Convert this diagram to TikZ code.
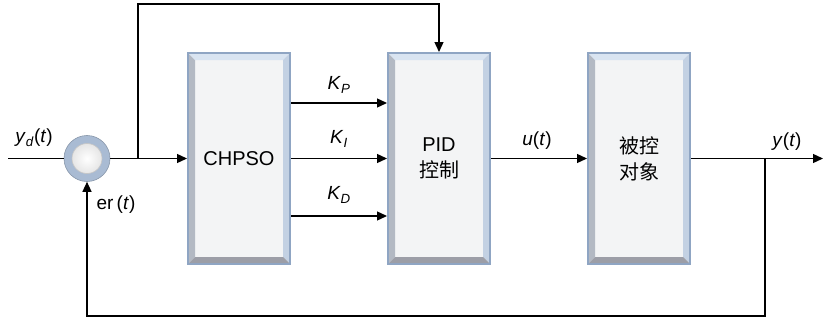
\documentclass[tikz,border=0pt]{standalone}
\usepackage{fontspec}
\setmainfont{Liberation Sans}
\newfontfamily\cjk{Noto Sans CJK SC}
\usetikzlibrary{arrows.meta,calc}
\definecolor{boxedge}{HTML}{8FA5C3}
\definecolor{boxface}{HTML}{F3F4F5}
\definecolor{bvleft}{HTML}{B3B9C3}
\definecolor{bvtop}{HTML}{D9E4F1}
\definecolor{bvright}{HTML}{C3D1E3}
\definecolor{bvbot}{HTML}{9C9EA7}
\definecolor{ringc}{HTML}{A9BBD3}
\tikzset{
  blk/.style={draw=boxedge, line width=2pt, fill=boxface, inner sep=0pt,
    minimum width=102pt, minimum height=211pt, align=center,
    font=\fontsize{20}{26}\selectfont,
    path picture={
      \coordinate (sw) at (path picture bounding box.south west);
      \coordinate (nw) at (path picture bounding box.north west);
      \coordinate (ne) at (path picture bounding box.north east);
      \coordinate (se) at (path picture bounding box.south east);
      \fill[bvleft] (sw) -- (nw) -- ([shift={(7pt,-7pt)}]nw) -- ([shift={(7pt,7pt)}]sw) -- cycle;
      \fill[bvtop] (nw) -- (ne) -- ([shift={(-7pt,-7pt)}]ne) -- ([shift={(7pt,-7pt)}]nw) -- cycle;
      \fill[bvright] (ne) -- (se) -- ([shift={(-7pt,7pt)}]se) -- ([shift={(-7pt,-7pt)}]ne) -- cycle;
      \fill[bvbot] (sw) -- (se) -- ([shift={(-7pt,7pt)}]se) -- ([shift={(7pt,7pt)}]sw) -- cycle;
    }},
  conn/.style={line width=1.3pt, draw=black},
  arr/.style={conn, -{Triangle[length=10pt,width=9pt]}},
  lab/.style={font=\fontsize{19}{22}\selectfont, inner sep=0pt},
}
\begin{document}
\begin{tikzpicture}[x=1pt,y=-1pt]
\useasboundingbox (0,0) rectangle (823,324);
% blocks
\node[blk] (chpso) at (239,158.5) {CHPSO};
\node[blk] (pid) at (439,158.5) {PID\\{\cjk 控制}};
\node[blk] (plant) at (639,158.5) {{\cjk 被控}\\{\cjk 对象}};
% summing junction
\node[circle, minimum size=46pt, inner sep=0pt, fill=ringc,
      draw=ringc!80!black, line width=0.6pt] (sum) at (87,158.5) {};
\shade[inner color=white, outer color=gray!20] (sum.center) circle (15pt);
\draw[gray!45, line width=0.6pt] (sum.center) circle (15pt);
% coordinates
\coordinate (in) at (8,158.5);
\coordinate (b1) at (138,158.5);
\coordinate (topy) at (0,4);
\coordinate (b2) at (765,158.5);
\coordinate (out) at (823,158.5);
\coordinate (boty) at (0,316);
% connectors
\draw[conn] (in) -- (sum.west);
\draw[arr] (sum.east) -- (chpso.west);
\draw[arr] (b1) -- (b1 |- topy) -- (pid.north |- topy) -- (pid.north);
\draw[arr] (chpso.east |- {0,103}) -- (pid.west |- {0,103});
\draw[arr] (chpso.east) -- (pid.west);
\draw[arr] (chpso.east |- {0,216}) -- (pid.west |- {0,216});
\draw[arr] (pid.east) -- (plant.west);
\draw[arr] (plant.east) -- (out);
\draw[arr] (b2) -- (b2 |- boty) -- (sum.south |- boty) -- (sum.south);
% labels
\node[lab] (lyd) at (34,138) {\textit{y}\textsubscript{\textit{d}}(\textit{t})};
\node[lab] (ler) at (116,205) {er\,(\textit{t})};
\node[lab] (lkp) at (339,85) {\textit{K}\textsubscript{\textit{P}}};
\node[lab] (lki) at (339,139) {\textit{K}\textsubscript{\textit{I}}};
\node[lab] (lkd) at (339,195) {\textit{K}\textsubscript{\textit{D}}};
\node[lab] (lu) at (537,141) {\textit{u}(\textit{t})};
\node[lab] (ly) at (787,142) {\textit{y}(\textit{t})};
\end{tikzpicture}
\end{document}
